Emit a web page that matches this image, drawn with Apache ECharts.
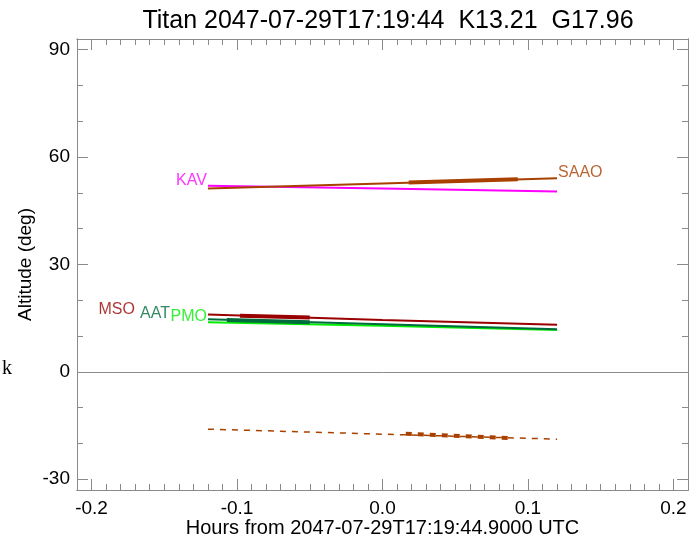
<!DOCTYPE html>
<html><head><meta charset="utf-8">
<script src="https://cdn.jsdelivr.net/npm/echarts@6/dist/echarts.min.js"></script>
<style>html,body{margin:0;padding:0;background:#fff}#c{width:700px;height:541px}</style>
</head><body><div id="c"></div>
<script>
// ---- data ----
var hours = [-0.12, 0.0, 0.12];
var kavAlt  = [52.0, 51.2, 50.4];
var saaoAlt = [51.2, 52.65, 54.1];
var msoAlt  = [16.0, 14.5, 13.2];
var aatAlt  = [14.7, 13.3, 11.9];
var pmoAlt  = [13.9, 12.9, 11.7];
var sunAlt  = [-16.0, -17.4, -18.8];
// highlighted (thick) windows
var saaoWinHours = [0.018, 0.093], saaoWinAlt = [52.9, 53.8];
var sunWinHours  = [0.016, 0.089], sunWinAlt  = [-17.3, -18.5];
var msoWinHours  = [-0.098, -0.05], msoWinAlt = [15.7, 15.2];
var aatWinHours  = [-0.107, -0.05], aatWinAlt = [14.5, 13.9];
var xMajor = [-0.2, -0.1, 0.0, 0.1, 0.2];
var yMajor = [-30, 0, 30, 60, 90];
var yMinor = [-20, -10, 10, 20, 40, 50, 70, 80];
var titleText = 'Titan 2047-07-29T17:19:44  K13.21  G17.96';
var xName = 'Hours from 2047-07-29T17:19:44.9000 UTC';
var yName = 'Altitude (deg)';

var xMinor = [];
for (var i = -20; i <= 20; i++) { if (i % 10 !== 0) xMinor.push(+(i / 100).toFixed(2)); }

function pairs(xs, ys) { return xs.map(function (x, i) { return [x, ys[i]]; }); }

var C = {kav:'#FF00FF', saao:'#A84000', mso:'#990000', aat:'#006B3C', pmo:'#00EE00'};
var FONT = 'Liberation Sans';
var AX = '#8a8a8a';

function xAxis(pos, vals, len, labels) {
  return {type:'value', position:pos, min:-0.21, max:0.21, gridIndex:0,
    axisLine:{show:true, onZero:false, lineStyle:{color:AX, width:1}},
    splitLine:{show:false},
    axisTick:{show:true, inside:true, length:len, customValues:vals, lineStyle:{color:AX, width:1}},
    axisLabel:{show:labels, customValues:vals, margin:9, color:'#000', fontSize:19, fontFamily:FONT,
      formatter:function(v){return v.toFixed(1);}},
    name: labels ? xName : '', nameLocation:'middle', nameGap:28, nameMoveOverlap:false,
    nameTextStyle:{color:'#000', fontSize:20, fontFamily:FONT}};
}
function yAxis(pos, vals, len, labels) {
  return {type:'value', position:pos, min:-33, max:93, gridIndex:0,
    axisLine:{show:true, onZero:false, lineStyle:{color:AX, width:1}},
    splitLine:{show:false},
    axisTick:{show:true, inside:true, length:len, customValues:vals, lineStyle:{color:AX, width:1}},
    axisLabel:{show:labels, customValues:vals, margin:7, color:'#000', fontSize:19, fontFamily:FONT},
    name: labels ? yName : '', nameLocation:'middle', nameGap:42, nameMoveOverlap:false,
    nameTextStyle:{color:'#000', fontSize:19, fontFamily:FONT}};
}

function line(name, xs, ys, color, width, dashed) {
  return {type:'line', name:name, data:pairs(xs, ys), showSymbol:false, symbol:'none',
    silent:true, animation:false, z:3,
    lineStyle:{color:color, width:width, type: dashed ? [6,6] : 'solid'}};
}

var labelData = [
  {value:[hours[0], kavAlt[0]], label:{formatter:'KAV', color:C.kav, position:'left', distance:1, offset:[0,-5]}},
  {value:[hours[0], msoAlt[0]], label:{formatter:'MSO', color:C.mso, position:'left', distance:1, offset:[-72,-5]}},
  {value:[hours[0], aatAlt[0]], label:{formatter:'AAT', color:C.aat, position:'left', distance:1, offset:[-37,-6]}},
  {value:[hours[0], pmoAlt[0]], label:{formatter:'PMO', color:C.pmo, position:'left', distance:1, offset:[0,-6]}},
  {value:[hours[2], saaoAlt[2]], label:{formatter:'SAAO', color:C.saao, position:'right', distance:1, offset:[0,-6]}}
];

var series = [
  line('sun', hours, sunAlt, C.saao, 1.5, true),
  line('sunwin', sunWinHours, sunWinAlt, C.saao, 4, true),
  line('KAV', hours, kavAlt, C.kav, 2),
  line('SAAO', hours, saaoAlt, C.saao, 2),
  line('SAAOwin', saaoWinHours, saaoWinAlt, C.saao, 4),
  line('MSO', hours, msoAlt, C.mso, 2),
  line('MSOwin', msoWinHours, msoWinAlt, C.mso, 4),
  line('PMO', hours, pmoAlt, C.pmo, 2),
  line('AAT', hours, aatAlt, C.aat, 2),
  line('AATwin', aatWinHours, aatWinAlt, C.aat, 4),
  {type:'scatter', data:labelData, symbolSize:0, silent:true, animation:false, z:5,
    label:{show:true, fontSize:16, fontFamily:FONT}}
];
series[2].markLine = {silent:true, symbol:'none', animation:false,
  label:{show:false}, lineStyle:{color:AX, width:1, type:'solid'}, data:[{yAxis:0}]};

var chart = echarts.init(document.getElementById('c'), null, {renderer:'canvas'});
chart.setOption({
  animation:false,
  backgroundColor:'#fff',
  title:{text:titleText, left:383, top:4, textAlign:'center',
    textStyle:{color:'#000', fontSize:25, fontWeight:'normal', fontFamily:FONT}},
  grid:{left:77, right:12, top:39, bottom:51, containLabel:false, outerBoundsMode:'none'},
  xAxis:[xAxis('bottom', xMajor, 11, true), xAxis('bottom', xMinor, 6, false),
         xAxis('top', xMajor, 11, false), xAxis('top', xMinor, 6, false)],
  yAxis:[yAxis('left', yMajor, 11, true), yAxis('left', yMinor, 6, false),
         yAxis('right', yMajor, 11, false), yAxis('right', yMinor, 6, false)],
  graphic:[{type:'text', left:2, top:359, style:{text:'k', fontSize:20, fontFamily:'Liberation Serif', fill:'#000'}}],
  series:series
});
</script></body></html>
